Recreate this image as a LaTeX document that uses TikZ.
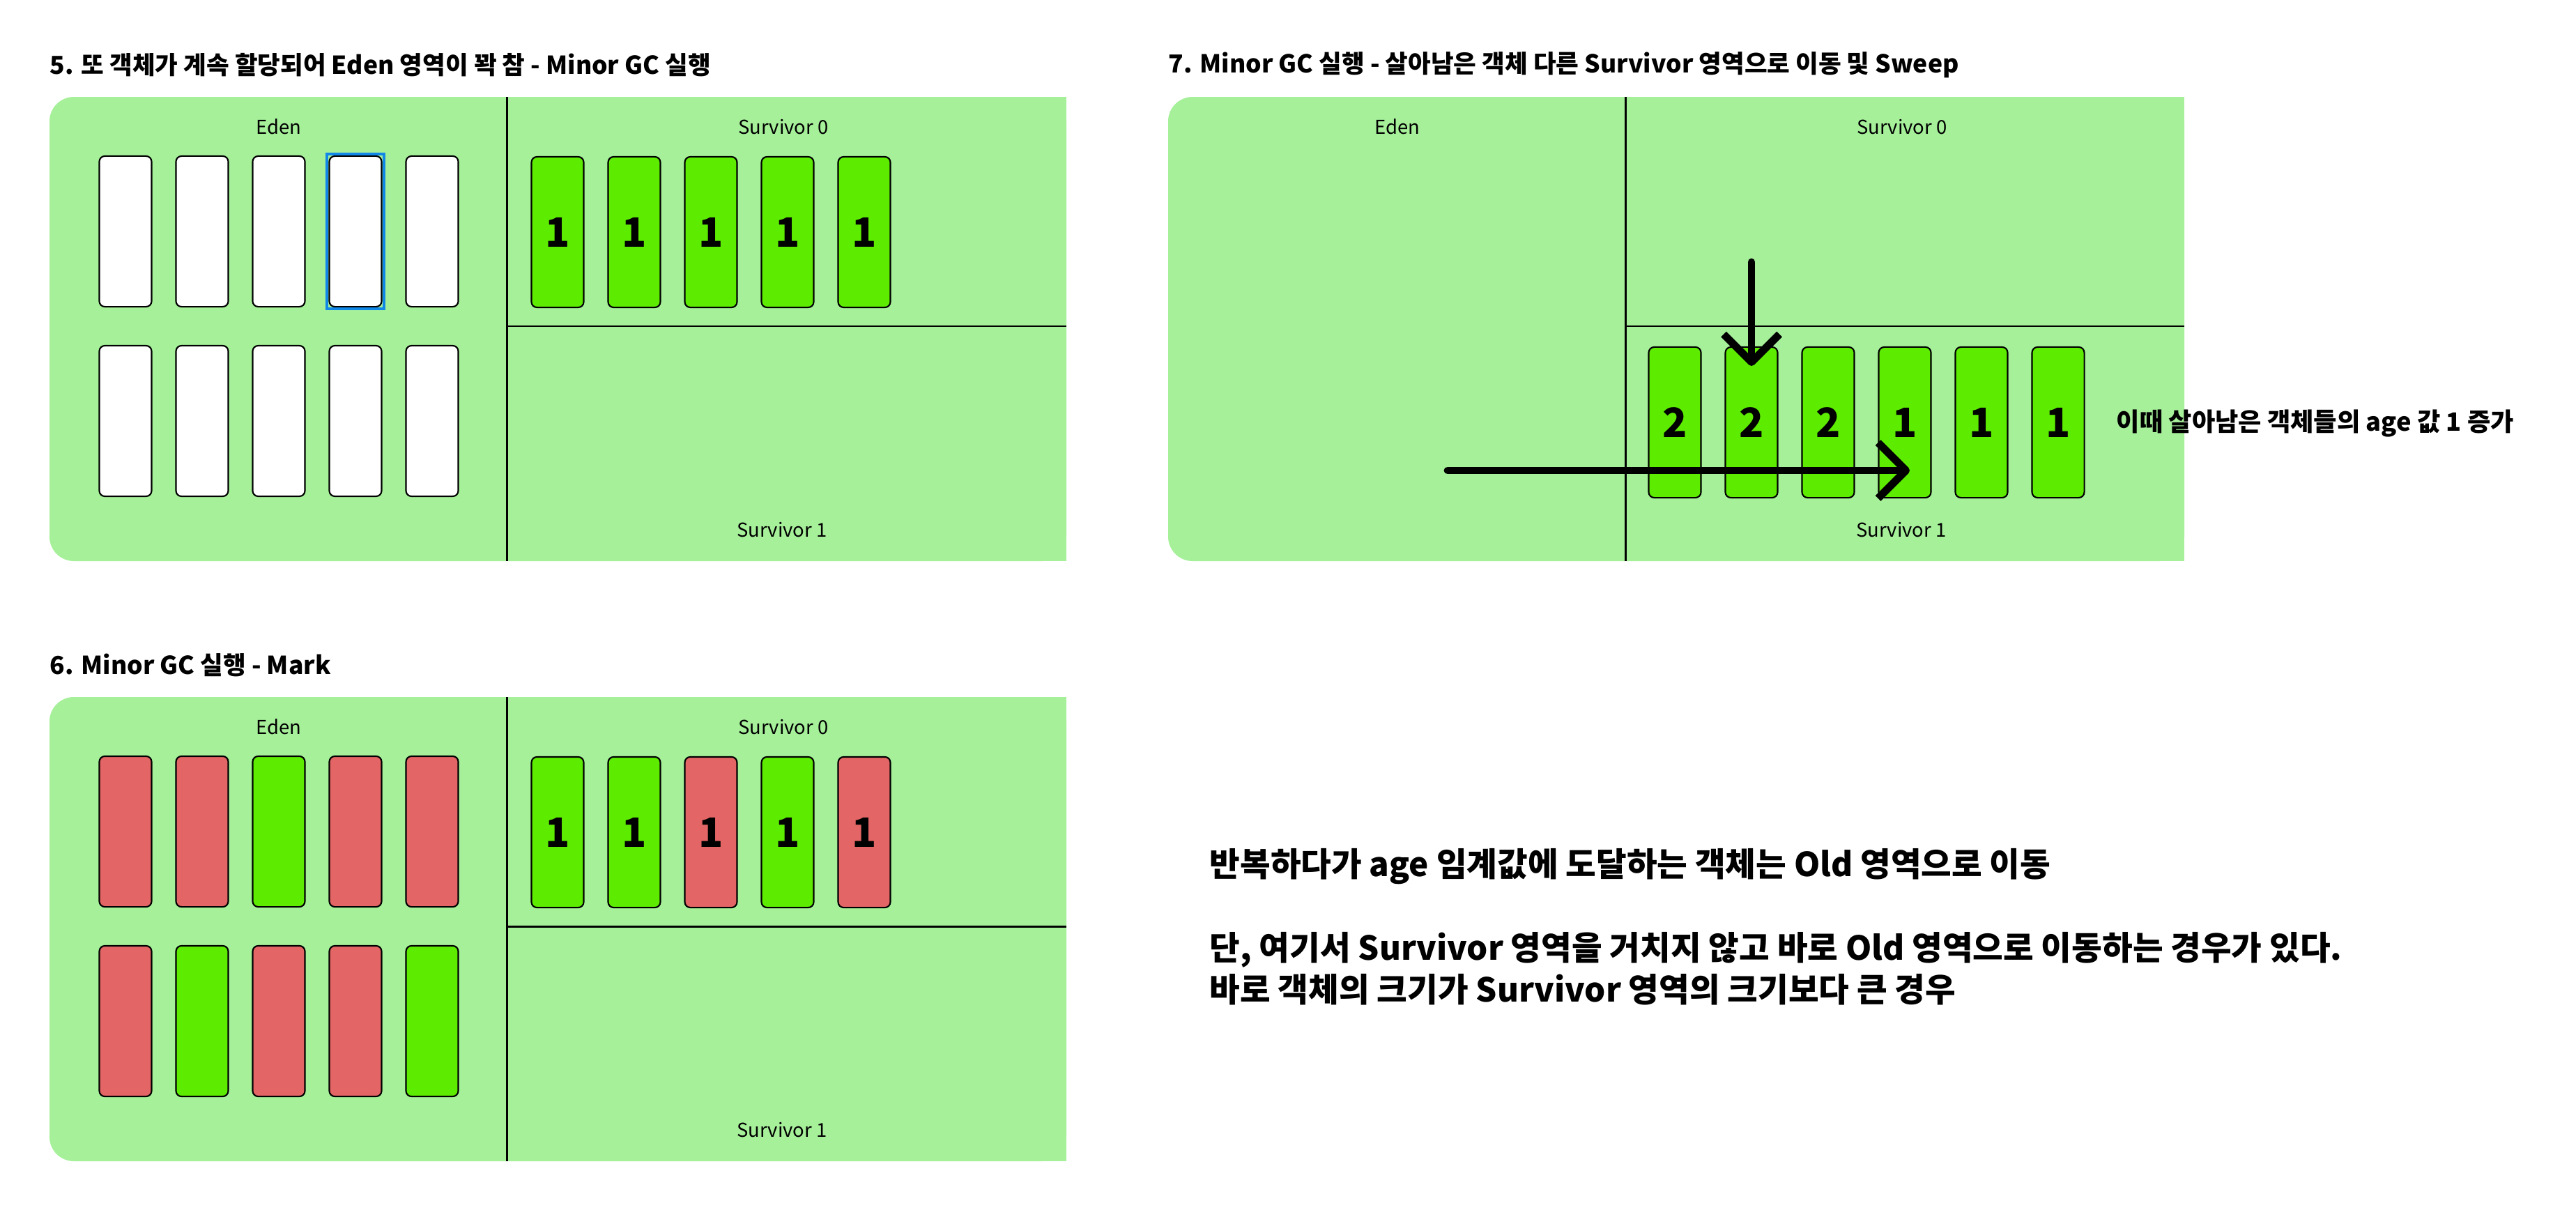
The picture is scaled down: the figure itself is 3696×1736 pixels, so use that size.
\documentclass[tikz,border=0pt]{standalone}
\usepackage{fontspec}
\setmainfont{Noto Sans CJK KR}
\usetikzlibrary{arrows.meta}
\definecolor{heapbg}{HTML}{A6F09A}
\definecolor{alive}{HTML}{5DEB00}
\definecolor{dead}{HTML}{E46565}
\definecolor{pick}{HTML}{1188E8}
\tikzset{
  obj/.style={draw=black, line width=0.6pt, rounded corners=0.08cm, minimum width=0.75cm,
    minimum height=2.16cm, inner sep=0pt, font=\fontsize{16.5}{16.5}\selectfont\bfseries},
  empty/.style={obj, fill=white},
  live/.style={obj, fill=alive},
  gone/.style={obj, fill=dead},
  area/.style={font=\fontsize{7.8}{9}\selectfont},
  heading/.style={anchor=west, inner sep=0pt, font=\fontsize{10.1}{12}\selectfont\bfseries},
  note/.style={anchor=west, inner sep=0pt, font=\fontsize{13.5}{16}\selectfont\bfseries},
  wall/.style={line width=0.85pt},
  move/.style={line width=3.1pt, line cap=round, -{Straight Barb[length=0.4cm, width=0.8cm, line join=round]}}
}
\begin{document}
\begin{tikzpicture}[x=0.01cm, y=-0.01cm]
\useasboundingbox (0,0) rectangle (3696,1736);

% Step 5: Eden full
\node[heading] (title5) at (71,93) {5. 또 객체가 계속 할당되어 Eden 영역이 꽉 참 - Minor GC 실행};
\fill[heapbg, rounded corners=0.35cm] (71,139) rectangle (1530,805);
\fill[heapbg] (900,139) rectangle (1530,805);
\draw[wall] (727,139) -- (727,805);
\draw[wall] (727,468) -- (1530,468);
\node[area] (eden5) at (400,182) {Eden};
\node[area] (sa5) at (1124,182) {Survivor 0};
\node[area] (sb5) at (1122,760) {Survivor 1};

\node[empty] (e5a) at (180,332) {};
\node[empty] (e5b) at (290,332) {};
\node[empty] (e5c) at (400,332) {};
\node[empty] (e5d) at (510,332) {};
\node[empty] (e5e) at (620,332) {};
\draw[pick, line width=0.04cm] ([shift={(-2,-2)}]e5d.north west) rectangle ([shift={(2,2)}]e5d.south east);
\node[empty] (e5f) at (180,604) {};
\node[empty] (e5g) at (290,604) {};
\node[empty] (e5h) at (400,604) {};
\node[empty] (e5i) at (510,604) {};
\node[empty] (e5j) at (620,604) {};

\node[live] (s5a) at (800,333) {1};
\node[live] (s5b) at (910,333) {1};
\node[live] (s5c) at (1020,333) {1};
\node[live] (s5d) at (1130,333) {1};
\node[live] (s5e) at (1240,333) {1};

% Step 6: Mark
\node[heading] (title6) at (71,954) {6. Minor GC 실행 - Mark};
\fill[heapbg, rounded corners=0.35cm] (71,1000) rectangle (1530,1666);
\fill[heapbg] (900,1000) rectangle (1530,1666);
\draw[wall] (727,1000) -- (727,1666);
\draw[wall] (727,1329) -- (1530,1329);
\node[area] (eden6) at (400,1043) {Eden};
\node[area] (sa6) at (1124,1043) {Survivor 0};
\node[area] (sb6) at (1122,1621) {Survivor 1};

\node[gone] (e6a) at (180,1193) {};
\node[gone] (e6b) at (290,1193) {};
\node[live] (e6c) at (400,1193) {};
\node[gone] (e6d) at (510,1193) {};
\node[gone] (e6e) at (620,1193) {};
\node[gone] (e6f) at (180,1465) {};
\node[live] (e6g) at (290,1465) {};
\node[gone] (e6h) at (400,1465) {};
\node[gone] (e6i) at (510,1465) {};
\node[live] (e6j) at (620,1465) {};

\node[live] (s6a) at (800,1194) {1};
\node[live] (s6b) at (910,1194) {1};
\node[gone] (s6c) at (1020,1194) {1};
\node[live] (s6d) at (1130,1194) {1};
\node[gone] (s6e) at (1240,1194) {1};

% Step 7: Sweep
\node[heading] (title7) at (1676,93) {7. Minor GC 실행 - 살아남은 객체 다른 Survivor 영역으로 이동 및 Sweep};
\fill[heapbg, rounded corners=0.35cm] (1676,139) rectangle (3134,805);
\fill[heapbg] (2500,139) rectangle (3134,805);
\draw[wall] (2332,139) -- (2332,805);
\draw[wall] (2332,468) -- (3134,468);
\node[area] (eden7) at (2005,182) {Eden};
\node[area] (sa7) at (2729,182) {Survivor 0};
\node[area] (sb7) at (2728,760) {Survivor 1};

\node[live] (s7a) at (2403,606) {2};
\node[live] (s7b) at (2513,606) {2};
\node[live] (s7c) at (2623,606) {2};
\node[live] (s7d) at (2733,606) {1};
\node[live] (s7e) at (2843,606) {1};
\node[live] (s7f) at (2953,606) {1};

\coordinate (drop7) at (2513,376);
\coordinate (land7) at (2513,525);
\coordinate (from7) at (2077,675);
\coordinate (to7) at (2740,675);
\draw[move] (drop7) -- (land7);
\draw[move] (from7) -- (to7);

\node[anchor=west, inner sep=0pt, font=\fontsize{10.3}{12}\selectfont\bfseries] (age7) at (3036,608) {이때 살아남은 객체들의 age 값 1 증가};

% Old area
\node[note] (old1) at (1735,1243) {반복하다가 age 임계값에 도달하는 객체는 Old 영역으로 이동};
\node[note] (old2) at (1735,1363) {단, 여기서 Survivor 영역을 거치지 않고 바로 Old 영역으로 이동하는 경우가 있다.};
\node[note] (old3) at (1735,1420) {바로 객체의 크기가 Survivor 영역의 크기보다 큰 경우};

\end{tikzpicture}
\end{document}
